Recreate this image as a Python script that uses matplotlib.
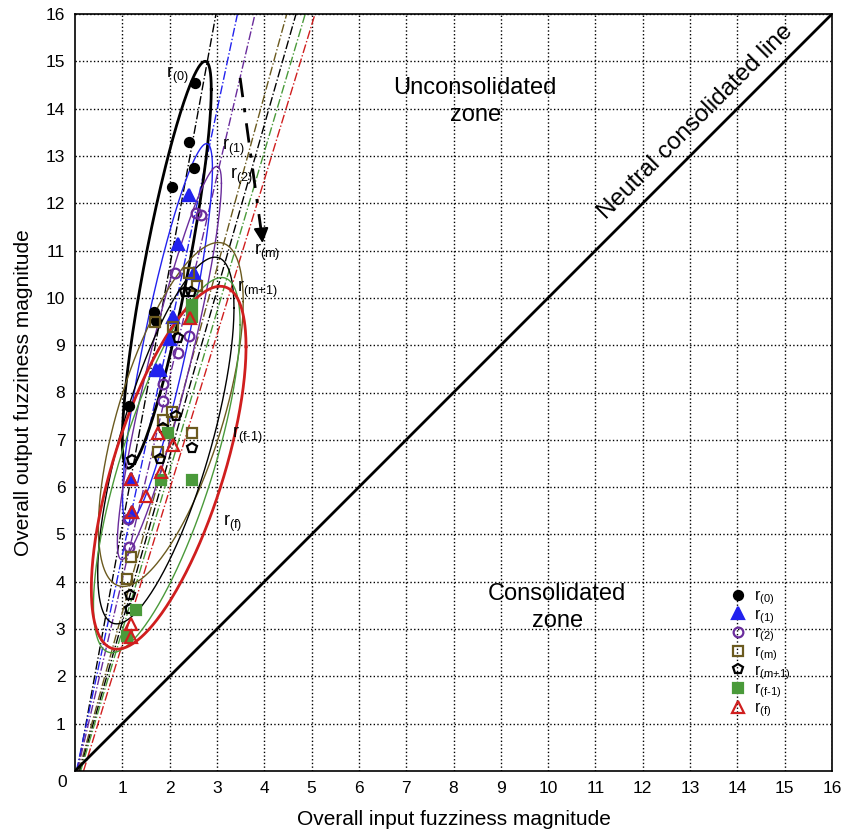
import numpy as np
import matplotlib
matplotlib.use("Agg")
import matplotlib.pyplot as plt

plt.rcParams['font.family'] = ['Liberation Sans', 'DejaVu Sans']
plt.rcParams['mathtext.fontset'] = 'custom'
plt.rcParams['mathtext.rm'] = 'Liberation Sans'
plt.rcParams['mathtext.default'] = 'regular'

# series names (legend / annotation subscripts)
names = ['(0)', '(1)', '(2)', '(m)', '(m{+}1)', '(f\u20101)', '(f)']

# data points
r0_x = [2.54, 2.42, 2.52, 2.04, 1.68, 1.71, 1.14]
r0_y = [14.55, 13.29, 12.74, 12.35, 9.71, 9.52, 7.72]
r1_x = [2.40, 2.17, 2.52, 2.08, 2.01, 1.71, 1.79, 1.18, 1.20]
r1_y = [12.18, 11.13, 10.53, 9.59, 9.13, 8.48, 8.48, 6.17, 5.47]
r2_x = [2.56, 2.67, 2.11, 2.42, 2.17, 1.85, 1.85, 1.11, 1.15]
r2_y = [11.79, 11.75, 10.53, 9.20, 8.83, 8.19, 7.81, 5.33, 4.73]
rm_x = [2.40, 2.57, 1.69, 2.08, 2.06, 1.87, 2.47, 1.76, 1.18, 1.09]
rm_y = [10.53, 10.25, 9.50, 9.39, 7.58, 7.42, 7.14, 6.75, 4.52, 4.05]
rm1_x = [2.33, 2.45, 2.18, 2.13, 1.87, 2.47, 1.80, 1.20, 1.16, 1.16]
rm1_y = [10.13, 10.13, 9.16, 7.50, 7.24, 6.82, 6.59, 6.58, 3.72, 3.42]
rf1_x = [2.47, 2.47, 1.97, 1.82, 2.48, 1.29, 1.09]
rf1_y = [9.85, 9.60, 7.14, 6.16, 6.15, 3.40, 2.85]
rf_x = [2.43, 1.75, 2.08, 1.82, 1.18, 1.50, 1.20, 1.18, 1.18]
rf_y = [9.57, 7.14, 6.89, 6.33, 6.17, 5.81, 5.47, 3.11, 2.84]

# confidence ellipses: centre, half extent in x / y, x offset of top point
ell_cx = [1.94, 1.955, 1.995, 2.025, 1.92, 1.94, 1.98]
ell_cy = [10.70, 9.25, 8.625, 7.535, 6.985, 6.465, 6.41]
ell_hx = [0.94, 0.95, 1.10, 1.53, 1.44, 1.55, 1.635]
ell_hy = [4.30, 4.01, 4.155, 3.635, 3.875, 3.965, 3.835]
ell_tdx = [0.81, 0.825, 1.005, 1.005, 1.04, 1.16, 1.09]

# trend lines y = m*x + c
trend_m = [5.46, 4.70, 4.26, 3.64, 3.50, 3.37, 3.27]
trend_c = [-0.27, -0.14, -0.21, -0.29, -0.35, -0.40, -0.59]

xs = [r0_x, r1_x, r2_x, rm_x, rm1_x, rf1_x, rf_x]
ys = [r0_y, r1_y, r2_y, rm_y, rm1_y, rf1_y, rf_y]

colors = ['black', '#2222ee', '#6a2c9c', '#6b5a1f', 'black', '#4a9a3a', '#d01e1e']
markers = ['o', '^', 'o', 's', 'p', 's', '^']
filled = [True, True, False, False, False, True, False]
msizes = [6.5, 8, 7, 7, 7, 7, 8]
ell_lw = [2.0, 1.0, 1.0, 1.0, 1.0, 1.0, 2.0]

fig = plt.figure(figsize=(8.42, 8.35), dpi=100)
ax = fig.add_axes([75 / 842, 1 - 771 / 835, 757 / 842, 757 / 835])

ax.set_xlim(0, 16)
ax.set_ylim(0, 16)
ax.set_xticks(range(1, 17))
ax.set_yticks(range(1, 17))
ax.tick_params(length=0, labelsize=12.5, pad=7)
ax.grid(True, linestyle=':', color='black', linewidth=1.0)
ax.text(-0.27, -0.25, '0', fontsize=12.5, ha='center', va='center')

# neutral line
ax.plot([0, 16], [0, 16], color='black', lw=2, zorder=3)

t = np.linspace(0, 2 * np.pi, 300)
for i in range(7):
    # trend line
    yy = np.array([0, 16])
    ax.plot((yy - trend_c[i]) / trend_m[i], yy, linestyle='-.', color=colors[i],
            lw=1.0, zorder=2)
    # ellipse
    S = np.array([[ell_hx[i] ** 2, ell_tdx[i] * ell_hy[i]],
                  [ell_tdx[i] * ell_hy[i], ell_hy[i] ** 2]])
    L = np.linalg.cholesky(S)
    pts = L @ np.vstack([np.cos(t), np.sin(t)])
    ax.plot(ell_cx[i] + pts[0], ell_cy[i] + pts[1], color=colors[i],
            lw=ell_lw[i], zorder=3)

for i in range(7):
    ax.plot(xs[i], ys[i], linestyle='none', marker=markers[i], ms=msizes[i],
            color=colors[i], mfc=colors[i] if filled[i] else 'none',
            mew=1.6, zorder=5, label='r$_{' + names[i] + '}$')

leg = ax.legend(loc='upper left', bbox_to_anchor=(0.857, 0.250), frameon=False,
                fontsize=11.5, handlelength=0.95, handletextpad=0.55,
                labelspacing=0.0, borderaxespad=0)

# series annotations
lab_x = [1.92, 3.10, 3.28, 3.78, 3.42, 3.32, 3.13]
lab_y = [14.71, 13.17, 12.56, 10.97, 10.17, 7.10, 5.24]
for i in range(7):
    ax.text(lab_x[i], lab_y[i], 'r$_{' + names[i] + '}$', fontsize=13,
            ha='left', va='center', zorder=6)

# direction arrow
ax.plot([3.49, 3.93], [14.65, 11.45], color='black', lw=2,
        linestyle=(0, (7, 4, 1.5, 4)), zorder=4)
ax.annotate('', xy=(3.97, 11.1), xytext=(3.93, 11.5),
            arrowprops=dict(arrowstyle='-|>', color='black', lw=1.5,
                            mutation_scale=22), zorder=4)

ax.text(8.46, 14.15, 'Unconsolidated\nzone', fontsize=17, ha='center',
        va='center', linespacing=1.3)
ax.text(10.19, 3.45, 'Consolidated\nzone', fontsize=17, ha='center',
        va='center', linespacing=1.3)
ax.text(13.12, 13.72, 'Neutral consolidated line', fontsize=17.5, rotation=45,
        ha='center', va='center', rotation_mode='anchor')

ax.set_xlabel('Overall input fuzziness magnitude', fontsize=15, labelpad=10)
ax.set_ylabel('Overall output fuzziness magnitude', fontsize=15, labelpad=9)

for s in ax.spines.values():
    s.set_linewidth(1.2)

fig.savefig('out.png', dpi=100)
